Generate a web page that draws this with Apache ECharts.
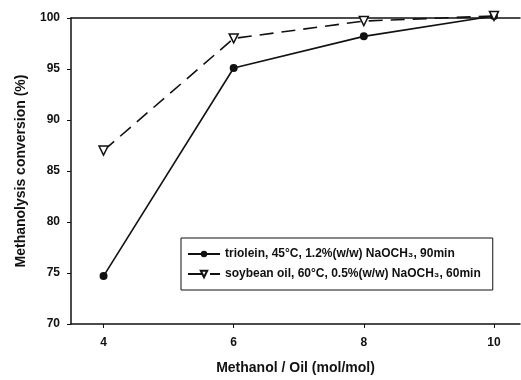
<!DOCTYPE html>
<html>
<head>
<meta charset="utf-8">
<script src="https://cdn.jsdelivr.net/npm/echarts@6/dist/echarts.min.js"></script>
<style>
  html, body { margin: 0; padding: 0; background: #fff; }
  #chart { width: 521px; height: 380px; }
</style>
</head>
<body>
<div id="chart"></div>
<script>
// Methanol to oil molar ratio
const ratios = [4, 6, 8, 10];
const xTicks = [4, 6, 8, 10];
// Methanolysis conversion (%)
const trioleinConv = [74.7, 95.1, 98.2, 100.2];
const soybeanConv = [87.0, 98.0, 99.7, 100.2];
const trioleinName = 'triolein, 45°C, 1.2%(w/w) NaOCH\u2083, 90min';
const soybeanName = 'soybean oil, 60°C, 0.5%(w/w) NaOCH\u2083, 60min';

const font = '"Liberation Sans", Arial, sans-serif';
const chart = echarts.init(document.getElementById('chart'), null, { renderer: 'canvas' });

chart.setOption({
  animation: false,
  backgroundColor: '#fff',
  grid: { left: 71, right: 1, top: 18, bottom: 50, containLabel: false },
  xAxis: [{
    type: 'value',
    min: 3.5,
    max: 10.4,
    name: 'Methanol / Oil (mol/mol)',
    nameLocation: 'middle',
    nameGap: 37,
    nameTextStyle: { fontFamily: font, fontWeight: 'bold', fontSize: 14, color: '#111' },
    axisLine: { lineStyle: { color: '#111', width: 1.5 } },
    axisTick: { show: true, length: 4, customValues: xTicks, lineStyle: { color: '#111' } },
    axisLabel: { customValues: xTicks, margin: 13, fontFamily: font, fontWeight: 'bold', fontSize: 12, color: '#111' },
    splitLine: { show: false }
  }, {
    type: 'value',
    position: 'top',
    min: 3.5,
    max: 10.4,
    axisLine: { show: true, lineStyle: { color: '#111', width: 1.5 } },
    axisTick: { show: false },
    axisLabel: { show: false },
    splitLine: { show: false }
  }],
  yAxis: {
    type: 'value',
    min: 70,
    max: 100,
    interval: 5,
    name: 'Methanolysis conversion (%)',
    nameLocation: 'middle',
    nameGap: 43,
    nameTextStyle: { fontFamily: font, fontWeight: 'bold', fontSize: 14, color: '#111' },
    axisLine: { show: true, lineStyle: { color: '#111', width: 1.5 } },
    axisTick: { show: true, length: 4, lineStyle: { color: '#111' } },
    axisLabel: { margin: 11, fontFamily: font, fontWeight: 'bold', fontSize: 12, color: '#111' },
    splitLine: { show: false }
  },
  legend: {
    orient: 'vertical',
    left: 181,
    top: 238,
    padding: [10, 12, 10, 6],
    itemGap: 8,
    itemWidth: 32,
    itemHeight: 8,
    borderColor: '#111',
    borderWidth: 1,
    backgroundColor: '#fff',
    textStyle: { fontFamily: font, fontWeight: 'bold', fontSize: 12, color: '#111' },
    data: [trioleinName, soybeanName]
  },
  series: [{
    name: trioleinName,
    type: 'line',
    clip: false,
    data: ratios.map((r, i) => [r, trioleinConv[i]]),
    symbol: 'circle',
    symbolSize: 8,
    itemStyle: { color: '#111' },
    lineStyle: { color: '#111', width: 1.6 }
  }, {
    name: soybeanName,
    type: 'line',
    clip: false,
    data: ratios.map((r, i) => [r, soybeanConv[i]]),
    symbol: 'triangle',
    symbolRotate: 180,
    symbolSize: 9,
    itemStyle: { color: '#fff', borderColor: '#111', borderWidth: 1.5 },
    lineStyle: { color: '#111', width: 1.6, type: [14, 8] }
  }]
});
</script>
</body>
</html>
